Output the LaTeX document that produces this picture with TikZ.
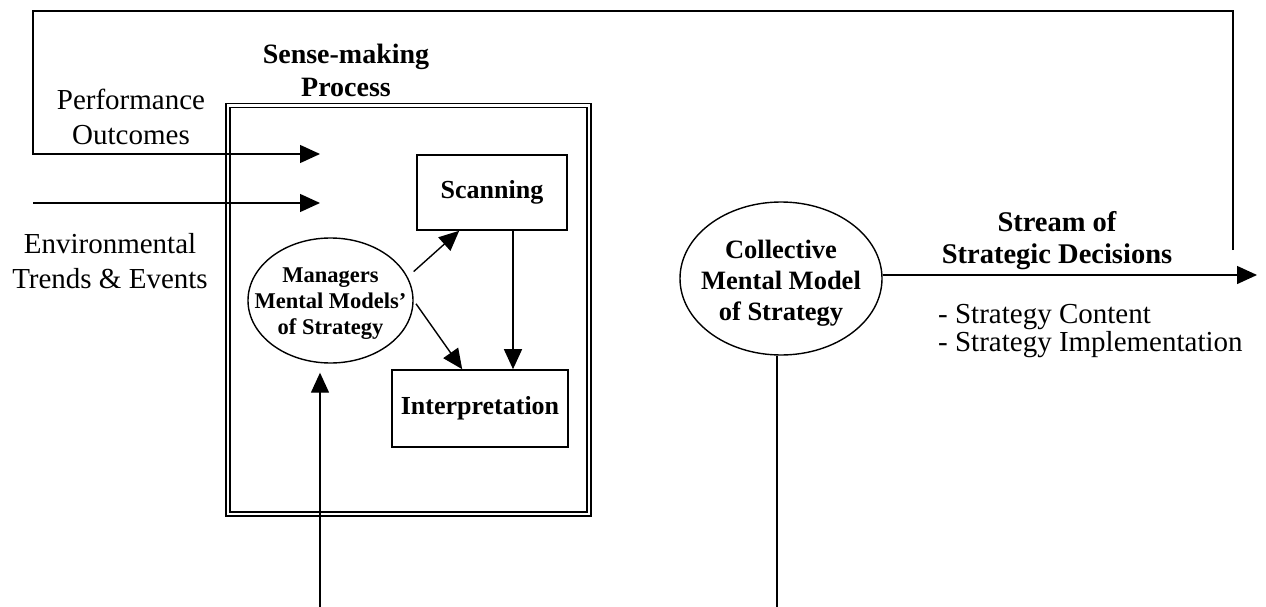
\documentclass[tikz,border=0pt]{standalone}
\usepackage{fontspec}
\setmainfont{Liberation Serif}
\usetikzlibrary{arrows.meta,shapes.geometric}
\tikzset{
  arr/.style={line width=1.4pt,-{Triangle[length=20pt,width=18pt]}},
  plain/.style={line width=1.4pt},
  stagebox/.style={draw,line width=1.6pt,inner sep=0pt,font=\bfseries\fontsize{26}{30}\selectfont},
  model/.style={draw,ellipse,line width=1.4pt,inner sep=0pt},
  lbl/.style={align=center,inner sep=0pt,font=\fontsize{29}{35}\selectfont}
}

\begin{document}
\begin{tikzpicture}[x=1pt,y=-1pt]
\useasboundingbox (0,0) rectangle (1266,607);

% sense-making frame
\draw[double,double distance=2.5pt,line width=1.4pt] (228,105.5) rectangle (589,514);
\node[lbl,font=\bfseries\fontsize{28}{33}\selectfont] (title) at (346,70) {Sense-making\\Process};

\node[stagebox,minimum width=150,minimum height=75] (scan) at (492,192.5) {Scanning};
\node[stagebox,minimum width=176,minimum height=77] (interp) at (480,408.5) {Interpretation};
\node[model,minimum width=165,minimum height=125,
  label={[lbl,font=\bfseries\fontsize{22.5}{26}\selectfont,yshift=-3pt]center:{Managers\\Mental Models’\\of Strategy}}] (mgr) at (330.5,300.5) {};
\node[model,minimum width=202,minimum height=153,
  label={[lbl,font=\bfseries\fontsize{26.5}{31}\selectfont,yshift=-5pt]center:{Collective\\Mental Model\\of Strategy}}] (coll) at (781,278.5) {};

% inputs and outputs
\node[lbl] (perf) at (131,117) {Performance\\Outcomes};
\node[lbl] (env) at (110,261) {Environmental\\Trends \& Events};
\node[lbl,font=\bfseries\fontsize{28.5}{32}\selectfont] (stream) at (1057,241) {Stream of\\Strategic Decisions};
\node[lbl,align=left,anchor=west,font=\fontsize{29}{28}\selectfont] (content) at (938,331) {- Strategy Content\\- Strategy Implementation};

\coordinate (fbstart) at (1233,250);
\coordinate (perfin) at (320,154);
\coordinate (envstart) at (33,203);
\coordinate (envin) at (320,203);
\coordinate (mgrfoot) at (320,607);
\coordinate (collfoot) at (777,607);
\coordinate (streamend) at (1257,275);

% connectors
\draw[arr] (fbstart) |- (33,11) |- (perfin);
\draw[arr] (envstart) -- (envin);
\draw[arr,shorten <=8pt] (mgr.17) -- ([xshift=43]scan.south west);
\draw[arr,shorten <=4pt] (mgr.east) -- ([xshift=71]interp.north west);
\draw[arr] ([xshift=21]scan.south) -- ([xshift=33]interp.north);
\draw[arr,shorten >=9pt] (mgrfoot) -- (mgrfoot |- mgr.south);
\draw[plain] (collfoot |- coll.south) -- (collfoot);
\draw[arr] (coll.east |- streamend) -- (streamend);
\end{tikzpicture}
\end{document}
